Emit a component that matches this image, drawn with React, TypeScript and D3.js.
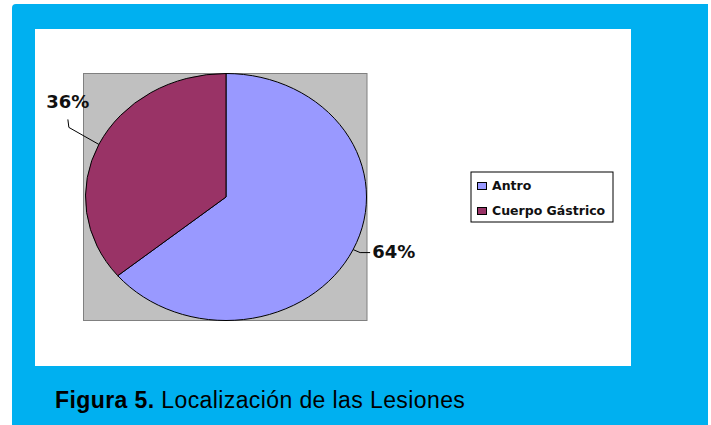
import React from "react";
import * as d3 from "d3";

const categories = ["Antro", "Cuerpo Gástrico"];
const values = [64, 36];
const sliceLabels = ["64%", "36%"];
const colors = ["#9999FF", "#993366"];
const captionBold = "Figura 5.";
const captionText = " Localización de las Lesiones";

const W = 711;
const H = 425;
const CX = 226;
const CY = 197;
const RX = 140.5;
const RY = 123.5;

export default function App() {
  const pie = d3.pie<number>().sort(null).value((d) => d);
  const arcs = pie(values);
  const arc = d3.arc<d3.PieArcDatum<number>>().innerRadius(0).outerRadius(RX);

  const edge = (a: number) => [CX + RX * Math.sin(a), CY - RY * Math.cos(a)];

  const labelLayout = [
    { bend: [7, 3], end: [17, 3], tx: 19, ty: 3, anchor: "start", base: "middle" },
    { bend: [-30, -17], end: [-31, -25], tx: -31, ty: -36, anchor: "middle", base: "auto" },
  ];

  return (
    <svg
      width={W}
      height={H}
      style={{ position: "absolute", left: 0, top: 0 }}
      xmlns="http://www.w3.org/2000/svg"
    >
      <rect x={0} y={0} width={W} height={H} fill="#ffffff" />
      <path d={`M12,8 Q12,4 16,4 L708,4 L708,${H} L12,${H} Z`} fill="#00B0F0" />
      <rect x={35} y={29} width={596} height={337} fill="#ffffff" />
      <rect x={83.5} y={73.5} width={283.5} height={247} fill="#C0C0C0" stroke="#808080" strokeWidth={1} />
      <g transform={`translate(${CX},${CY}) scale(1, ${RY / RX})`}>
        {arcs.map((a, i) => (
          <path
            key={i}
            d={arc(a) || ""}
            fill={colors[i]}
            stroke="#000"
            strokeWidth={1}
            vectorEffect="non-scaling-stroke"
          />
        ))}
      </g>
      {arcs.map((a, i) => {
        const mid = (a.startAngle + a.endAngle) / 2;
        const [ex, ey] = edge(mid);
        const L = labelLayout[i];
        return (
          <g key={"l" + i}>
            <polyline
              points={`${ex},${ey} ${ex + L.bend[0]},${ey + L.bend[1]} ${ex + L.end[0]},${ey + L.end[1]}`}
              fill="none"
              stroke="#000"
              strokeWidth={1}
            />
            <text
              x={ex + L.tx}
              y={ey + L.ty}
              textAnchor={L.anchor as any}
              dominantBaseline={L.base as any}
              fontFamily="'DejaVu Sans', Verdana, sans-serif"
              fontWeight="bold"
              fontSize={18}
              fill="#111"
            >
              {sliceLabels[i]}
            </text>
          </g>
        );
      })}
      <rect x={471} y={172} width={142} height={50} fill="#fff" stroke="#000" strokeWidth={1} />
      {categories.map((c, i) => (
        <g key={c} transform={`translate(477, ${182 + i * 25})`}>
          <rect x={0.5} y={0.5} width={9} height={7} fill={colors[i]} stroke="#000" strokeWidth={1} />
          <text
            x={15}
            y={8}
            fontFamily="'DejaVu Sans', Verdana, sans-serif"
            fontWeight="bold"
            fontSize={12.5}
            fill="#111"
          >
            {c}
          </text>
        </g>
      ))}
      <text
        x={55}
        y={408}
        fontFamily="'Liberation Sans', Arial, sans-serif"
        fontSize={23}
        letterSpacing={0.4}
        fill="#000"
      >
        <tspan fontWeight="bold">{captionBold}</tspan>
        <tspan>{captionText}</tspan>
      </text>
    </svg>
  );
}
